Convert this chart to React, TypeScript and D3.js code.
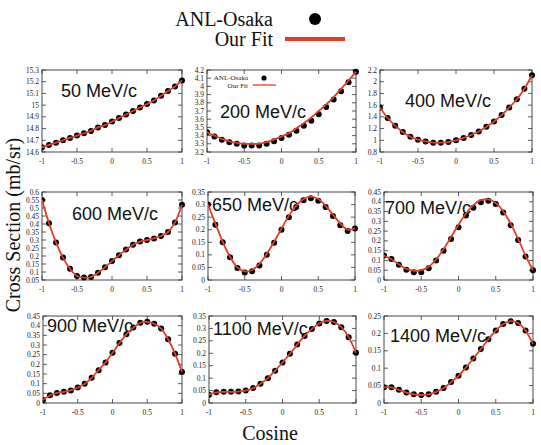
import * as d3 from "d3";

// cosine grid shared by every panel
const cosine = [-1, -0.9, -0.8, -0.7, -0.6, -0.5, -0.4, -0.3, -0.2, -0.1, 0, 0.1, 0.2, 0.3, 0.4, 0.5, 0.6, 0.7, 0.8, 0.9, 1];
const xTicks = [-1, -0.5, 0, 0.5, 1];

// ANL-Osaka points (mb/sr)
const data50 = [14.64, 14.66, 14.68, 14.7, 14.72, 14.74, 14.76, 14.78, 14.81, 14.83, 14.86, 14.89, 14.92, 14.95, 14.98, 15.01, 15.04, 15.08, 15.12, 15.16, 15.21];
const data200 = [3.44, 3.39, 3.35, 3.32, 3.3, 3.28, 3.28, 3.28, 3.3, 3.33, 3.37, 3.41, 3.46, 3.52, 3.58, 3.66, 3.75, 3.84, 3.94, 4.05, 4.18];
const data400 = [1.56, 1.38, 1.25, 1.14, 1.06, 1.01, 0.98, 0.96, 0.96, 0.97, 1.0, 1.04, 1.09, 1.15, 1.23, 1.32, 1.43, 1.56, 1.7, 1.88, 2.11];
const data600 = [0.55, 0.405, 0.285, 0.19, 0.12, 0.075, 0.065, 0.068, 0.095, 0.13, 0.168, 0.205, 0.24, 0.27, 0.29, 0.3, 0.31, 0.325, 0.35, 0.41, 0.52];
const data650 = [0.3, 0.22, 0.15, 0.09, 0.048, 0.03, 0.035, 0.058, 0.1, 0.148, 0.2, 0.25, 0.29, 0.317, 0.325, 0.315, 0.29, 0.255, 0.218, 0.195, 0.205];
const data700 = [0.125, 0.108, 0.078, 0.052, 0.04, 0.04, 0.06, 0.1, 0.15, 0.21, 0.27, 0.33, 0.37, 0.398, 0.405, 0.388, 0.345, 0.28, 0.205, 0.12, 0.05];
const data900 = [0.015, 0.04, 0.052, 0.058, 0.065, 0.08, 0.1, 0.13, 0.17, 0.21, 0.26, 0.31, 0.355, 0.39, 0.415, 0.42, 0.41, 0.385, 0.33, 0.255, 0.16];
const data1100 = [0.033, 0.043, 0.045, 0.045, 0.046, 0.05, 0.06, 0.077, 0.1, 0.13, 0.163, 0.198, 0.235, 0.27, 0.298, 0.32, 0.33, 0.326, 0.305, 0.265, 0.202];
const data1400 = [0.045, 0.045, 0.038, 0.03, 0.025, 0.023, 0.025, 0.032, 0.043, 0.06, 0.078, 0.102, 0.128, 0.155, 0.183, 0.208, 0.227, 0.235, 0.23, 0.208, 0.17];

// fit curves where they visibly differ from the points
const fit200 = [3.44, 3.4, 3.36, 3.33, 3.31, 3.3, 3.3, 3.3, 3.32, 3.35, 3.39, 3.43, 3.49, 3.55, 3.62, 3.7, 3.78, 3.87, 3.97, 4.07, 4.18];
const fit650 = [0.3, 0.225, 0.152, 0.092, 0.05, 0.034, 0.04, 0.064, 0.104, 0.152, 0.205, 0.255, 0.296, 0.322, 0.332, 0.322, 0.295, 0.26, 0.225, 0.2, 0.205];
const fit700 = [0.125, 0.106, 0.08, 0.057, 0.047, 0.05, 0.068, 0.105, 0.158, 0.22, 0.283, 0.34, 0.383, 0.408, 0.412, 0.394, 0.352, 0.288, 0.21, 0.125, 0.05];

// y tick labels
const yTicks50 = [14.6, 14.7, 14.8, 14.9, 15, 15.1, 15.2, 15.3];
const yTicks200 = [3.2, 3.3, 3.4, 3.5, 3.6, 3.7, 3.8, 3.9, 4, 4.1, 4.2];
const yTicks400 = [0.8, 1, 1.2, 1.4, 1.6, 1.8, 2, 2.2];
const yTicks600 = [0.05, 0.1, 0.15, 0.2, 0.25, 0.3, 0.35, 0.4, 0.45, 0.5, 0.55, 0.6];
const yTicks035 = [0, 0.05, 0.1, 0.15, 0.2, 0.25, 0.3, 0.35];
const yTicks045 = [0, 0.05, 0.1, 0.15, 0.2, 0.25, 0.3, 0.35, 0.4, 0.45];
const yTicks025 = [0, 0.05, 0.1, 0.15, 0.2, 0.25];

const RED = "#dc3f2a";
const serif = "'Liberation Serif', 'Times New Roman', serif";
const sans = "'Liberation Sans', Arial, sans-serif";

const panels = [
  { label: "50 MeV/c", data: data50, fit: data50, ticks: yTicks50, box: [42, 182, 70, 152], lx: 61, ly: 97 },
  { label: "200 MeV/c", data: data200, fit: fit200, ticks: yTicks200, box: [207, 356, 70, 152], lx: 220, ly: 118, legend: true },
  { label: "400 MeV/c", data: data400, fit: data400, ticks: yTicks400, box: [380, 532, 70, 152], lx: 405, ly: 107 },
  { label: "600 MeV/c", data: data600, fit: data600, ticks: yTicks600, box: [42, 182, 192, 280], lx: 72, ly: 220 },
  { label: "650 MeV/c", data: data650, fit: fit650, ticks: yTicks035, box: [208, 355, 192, 280], lx: 212, ly: 211 },
  { label: "700 MeV/c", data: data700, fit: fit700, ticks: yTicks045, box: [384, 533, 192, 280], lx: 385, ly: 214 },
  { label: "900 MeV/c", data: data900, fit: data900, ticks: yTicks045, box: [43, 182, 316, 403], lx: 47, ly: 332 },
  { label: "1100 MeV/c", data: data1100, fit: data1100, ticks: yTicks035, box: [209, 356, 316, 403], lx: 213, ly: 335 },
  { label: "1400 MeV/c", data: data1400, fit: data1400, ticks: yTicks025, box: [384, 533, 316, 403], lx: 390, ly: 342 },
];

function Panel({ p, i }: { p: any; i: number }) {
  const [x0, x1, y0, y1] = p.box;
  const x = d3.scaleLinear().domain([-1, 1]).range([x0, x1]);
  const y = d3
    .scaleLinear()
    .domain([p.ticks[0], p.ticks[p.ticks.length - 1]])
    .range([y1, y0]);
  const line = d3
    .line<number>()
    .x((_, j) => x(cosine[j]))
    .y((d) => y(d))
    .curve(d3.curveCatmullRom.alpha(0.5));
  const tk = 4;
  return (
    <g>
      <defs>
        <clipPath id={"clip" + i}>
          <rect x={x0} y={y0 - 4} width={x1 - x0 + 4} height={y1 - y0 + 8} />
        </clipPath>
      </defs>
      {p.ticks.map((t: number) => (
        <g key={"y" + t}>
          <line x1={x0} x2={x0 + tk} y1={y(t)} y2={y(t)} stroke="#333" strokeWidth={0.8} />
          <line x1={x1} x2={x1 - tk} y1={y(t)} y2={y(t)} stroke="#333" strokeWidth={0.8} />
          <text x={x0 - 3} y={y(t) + 2.5} fontSize={7.5} textAnchor="end" fontFamily={serif} fill="#222">
            {String(t)}
          </text>
        </g>
      ))}
      {xTicks.map((t) => (
        <g key={"x" + t}>
          <line x1={x(t)} x2={x(t)} y1={y1} y2={y1 - tk} stroke="#333" strokeWidth={0.8} />
          <line x1={x(t)} x2={x(t)} y1={y0} y2={y0 + tk} stroke="#333" strokeWidth={0.8} />
          <text x={x(t)} y={y1 + 12} fontSize={7.5} textAnchor="middle" fontFamily={serif} fill="#222">
            {String(t)}
          </text>
        </g>
      ))}
      <rect x={x0} y={y0} width={x1 - x0} height={y1 - y0} fill="none" stroke="#333" strokeWidth={0.9} />
      <text x={p.lx} y={p.ly} fontSize={18} fontFamily={sans} fill="#111">
        {p.label}
      </text>
      <g clipPath={`url(#clip${i})`}>
        {p.data.map((d: number, j: number) => (
          <circle key={j} cx={x(cosine[j])} cy={y(d)} r={3} fill="#000" />
        ))}
        <path d={line(p.fit) || ""} fill="none" stroke={RED} strokeWidth={1.8} />
      </g>
      {p.legend && (
        <g fontFamily={serif} fontSize={7} fill="#222">
          <text x={248} y={80} textAnchor="end">ANL-Osaka</text>
          <circle cx={264} cy={78} r={2.6} fill="#000" />
          <text x={248} y={88} textAnchor="end">Our Fit</text>
          <line x1={253} x2={276} y1={85} y2={85} stroke={RED} strokeWidth={1.3} />
        </g>
      )}
    </g>
  );
}

export default function App() {
  return (
    <svg width={541} height={445} style={{ position: "absolute", left: 0, top: 0, background: "#fff" }}>
      <rect width={541} height={445} fill="#fff" />
      <g fontFamily={serif} fontSize={20} fill="#111">
        <text x={273} y={26} textAnchor="end">ANL-Osaka</text>
        <circle cx={315} cy={19} r={6} fill="#000" />
        <text x={273} y={46} textAnchor="end">Our Fit</text>
        <line x1={285} x2={345} y1={39} y2={39} stroke={RED} strokeWidth={4} />
      </g>
      {panels.map((p, i) => (
        <Panel key={p.label} p={p} i={i} />
      ))}
      <text
        transform="translate(20,225) rotate(-90)"
        textAnchor="middle"
        fontFamily={serif}
        fontSize={20}
        fill="#111"
      >
        Cross Section (mb/sr)
      </text>
      <text x={270} y={440} textAnchor="middle" fontFamily={serif} fontSize={20} fill="#111">
        Cosine
      </text>
    </svg>
  );
}
